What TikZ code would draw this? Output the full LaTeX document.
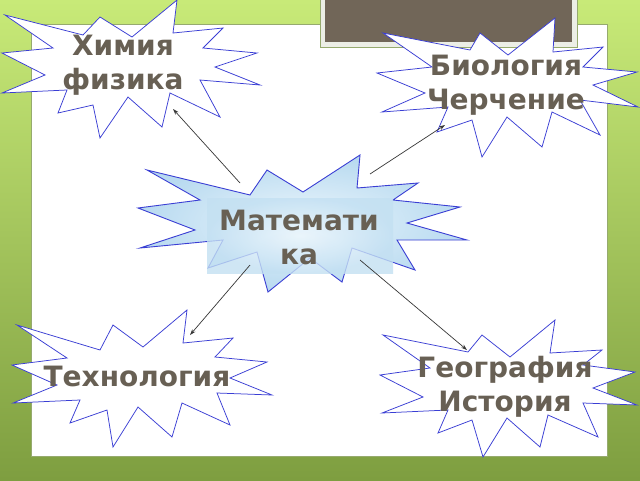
\documentclass[tikz,border=0pt]{standalone}
\usepackage{fontspec}
\setmainfont{DejaVu Sans}
\usetikzlibrary{arrows.meta}
\definecolor{bgtop}{RGB}{200,234,120}
\definecolor{bgbot}{RGB}{126,158,64}
\definecolor{panelline}{RGB}{150,170,110}
\definecolor{framegray}{RGB}{236,238,230}
\definecolor{boxgray}{RGB}{113,102,88}
\definecolor{starblue}{RGB}{58,62,212}
\definecolor{wordgray}{RGB}{104,96,84}
\definecolor{linkgray}{RGB}{55,55,55}
\definecolor{skyin}{RGB}{236,246,252}
\definecolor{skyout}{RGB}{184,218,240}
\begin{document}
\begin{tikzpicture} [
                x=1pt, y=-1pt,
                burst/.style={draw=starblue, line width=0.75pt, fill=white, line join=miter},
                link/.style={draw=linkgray, line width=0.7pt, -{Stealth[length=6pt,width=4pt]}},
                word/.style={font=\bfseries\fontsize{28}{34}\selectfont, text=wordgray, align=center, inner sep=0pt},
            ]
            \useasboundingbox (0,0) rectangle (640,480);
            % background and slide panel
            \shade[top color=bgtop, bottom color=bgbot] (0,0) rectangle (640,480);
            \draw[panelline, fill=white] (31,24) rectangle (607,456);
            \filldraw[fill=framegray, draw=panelline] (320,-1) rectangle (577,47);
            \fill[boxgray] (325,-1) rectangle (572,42);
            % bursts
            \draw[burst] (5,15) -- (83,35) -- (100,17) -- (132,37) -- (177,0) -- (173,33) -- (223,28) -- (203,48)
                -- (257,53) -- (215,67) -- (260,85) -- (200,80) -- (220,117) -- (170,93) -- (162,127) -- (128,97)
                -- (100,138) -- (93,105) -- (58,113) -- (67,90) -- (2,93) -- (45,75) -- (2,53) -- (53,48) -- cycle;
            \draw[burst] (383,33) -- (470,50) -- (480,33) -- (508,55) -- (555,18) -- (553,52) -- (603,47) -- (583,67)
                -- (637,72) -- (593,85) -- (638,107) -- (580,100) -- (600,135) -- (552,112) -- (542,147) -- (507,117)
                -- (482,157) -- (472,120) -- (437,132) -- (448,107) -- (382,112) -- (425,93) -- (377,73) -- (432,67) -- cycle;
            \draw[burst] (17,325) -- (100,350) -- (113,325) -- (143,347) -- (187,310) -- (183,343) -- (233,338) -- (215,357)
                -- (267,362) -- (230,378) -- (272,395) -- (217,393) -- (230,425) -- (182,403) -- (172,437) -- (138,407)
                -- (113,447) -- (107,410) -- (70,423) -- (80,400) -- (13,403) -- (57,385) -- (12,365) -- (67,358) -- cycle;
            \draw[burst] (383,335) -- (468,352) -- (482,335) -- (510,357) -- (555,320) -- (550,353) -- (602,350) -- (583,365)
                -- (635,372) -- (593,388) -- (637,405) -- (583,403) -- (598,437) -- (548,415) -- (540,447) -- (507,418)
                -- (483,457) -- (472,420) -- (438,433) -- (448,410) -- (382,413) -- (423,397) -- (380,375) -- (430,368) -- cycle;
            \shadedraw[burst, line width=0.9pt, inner color=skyin, outer color=skyout]
                (147,170) -- (250,195) -- (267,170) -- (303,192) -- (360,155) -- (357,188) -- (418,183) -- (393,200)
                -- (460,207) -- (407,223) -- (467,240) -- (397,240) -- (415,270) -- (352,248) -- (342,282) -- (310,258)
                -- (268,292) -- (257,252) -- (208,268) -- (223,240) -- (140,248) -- (195,230) -- (138,208) -- (200,200) -- cycle;
            \shade[inner color=skyin, outer color=skyout!85, fill opacity=0.8] (207,198) rectangle (393,273);
            % labels
            \node[word] (chem) at (123,65) {Химия\\физика};
            \node[word] (bio) at (506,85) {Биология\\Черчение};
            \node[word] (math) at (299,237) {Математи\\ка};
            \node[word] (tech) at (137,376) {Технология};
            \node[word] (geo) at (505,387) {География\\История};
            % arrows
            \coordinate (mathnw) at (240,183);
            \coordinate (mathne) at (370,174);
            \coordinate (mathsw) at (250,265);
            \coordinate (mathse) at (360,260);
            \coordinate (chemin) at (173,109);
            \coordinate (bioin) at (445,125);
            \coordinate (techin) at (190,335);
            \coordinate (geoin) at (467,350);
            \foreach \source/ \dest in {
                    mathnw/chemin, mathne/bioin, mathsw/techin, mathse/geoin}
                \path[link] (\source) -- (\dest);
        \end{tikzpicture}
\end{document}
